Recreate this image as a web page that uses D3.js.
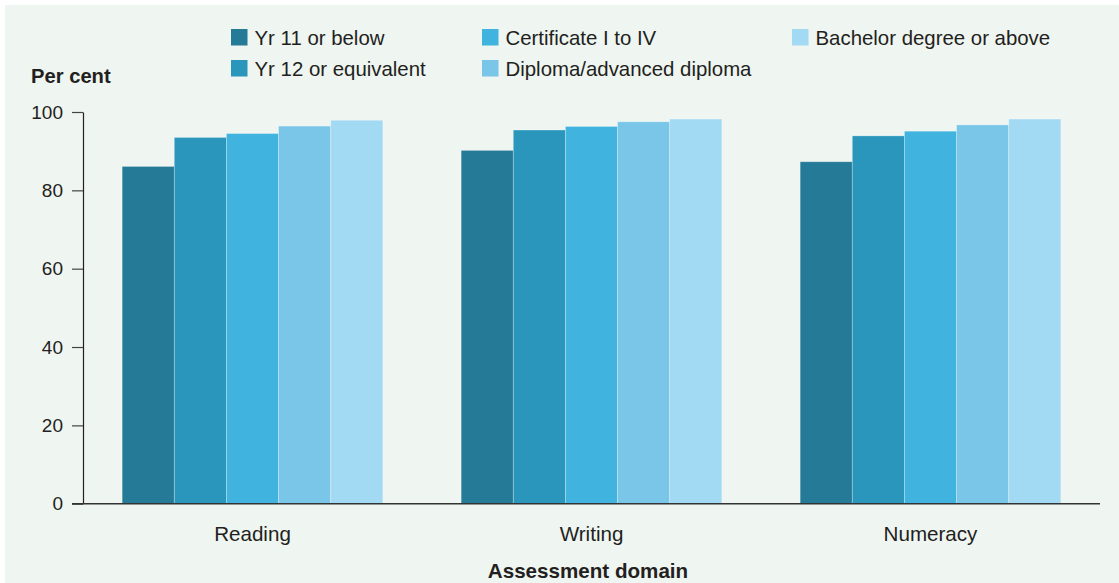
<!DOCTYPE html>
<html>
<head>
<meta charset="utf-8">
<script src="https://cdn.jsdelivr.net/npm/d3@7"></script>
<style>
  html, body { margin: 0; padding: 0; background: #ffffff; }
  svg { display: block; font-family: "Liberation Sans", Arial, sans-serif; }
</style>
</head>
<body>
<svg id="chart" width="1119" height="583"></svg>
<script>
const categories = ["Reading", "Writing", "Numeracy"];
const seriesNames = ["Yr 11 or below", "Yr 12 or equivalent", "Certificate I to IV", "Diploma/advanced diploma", "Bachelor degree or above"];
const yr11 = [86.1, 90.2, 87.3];
const yr12 = [93.5, 95.4, 93.9];
const cert = [94.5, 96.3, 95.1];
const diploma = [96.4, 97.5, 96.7];
const bachelor = [97.9, 98.2, 98.2];
const yTicks = [0, 20, 40, 60, 80, 100];
const colors = ["#257A97", "#2A96BC", "#40B3DF", "#79C6E8", "#A3DAF3"];

const seriesValues = [yr11, yr12, cert, diploma, bachelor];

const svg = d3.select("#chart");
const textColor = "#231F20";

// background panel
svg.append("rect").attr("x", 5).attr("y", 5).attr("width", 1114).attr("height", 578).attr("fill", "#EFF5F1");

const left = 83, right = 1100, y0 = 503.7, yTop = 112;
const x = d3.scaleBand().domain(categories).range([left, right]).paddingInner(0.231).paddingOuter(0.1155);
const xi = d3.scaleBand().domain(seriesNames).range([0, x.bandwidth()]).padding(0);
const y = d3.scaleLinear().domain([0, 100]).range([y0, yTop]);

// bars
const groups = svg.append("g").selectAll("g").data(categories).join("g")
  .attr("transform", d => `translate(${x(d)},0)`);
groups.selectAll("rect")
  .data((c, ci) => seriesNames.map((s, si) => ({s, si, v: seriesValues[si][ci]})))
  .join("rect")
  .attr("x", d => xi(d.s))
  .attr("y", d => y(d.v))
  .attr("width", xi.bandwidth())
  .attr("height", d => y0 - y(d.v))
  .attr("fill", d => colors[d.si])
  .attr("stroke", "rgba(255,255,255,0.35)")
  .attr("stroke-width", 0.8);

// y axis
const yAxis = svg.append("g").attr("transform", `translate(${left},0)`)
  .call(d3.axisLeft(y).tickValues(yTicks).tickSize(11).tickPadding(9).tickSizeOuter(0));
yAxis.select(".domain").attr("stroke", "#231F20").attr("stroke-width", 1.2);
yAxis.selectAll(".tick line").attr("stroke", "#444").attr("stroke-width", 1.2);
yAxis.selectAll(".tick text").attr("font-size", 19).attr("fill", textColor)
  .attr("font-family", "'Liberation Sans', Arial, sans-serif");

// x axis
const xAxis = svg.append("g").attr("transform", `translate(0,${y0})`)
  .call(d3.axisBottom(x).tickSize(0).tickPadding(23).tickSizeOuter(0));
xAxis.select(".domain").attr("stroke", "#333").attr("stroke-width", 1.4)
  .attr("d", `M72,0H${right}`);
xAxis.selectAll(".tick text").attr("font-size", 20.6).attr("fill", textColor)
  .attr("font-family", "'Liberation Sans', Arial, sans-serif");

// axis titles
svg.append("text").attr("x", 31).attr("y", 83).text("Per cent")
  .attr("font-size", 20.2).attr("font-weight", "bold").attr("fill", textColor);
svg.append("text").attr("x", (left + right) / 2 - 3.5).attr("y", 577.5).text("Assessment domain")
  .attr("text-anchor", "middle").attr("font-size", 20.6).attr("font-weight", "bold").attr("fill", textColor);

// legend
const legendPos = [[231, 29], [231, 60], [482, 29], [482, 60], [792, 29]];
const legend = svg.append("g").selectAll("g").data(seriesNames).join("g")
  .attr("transform", (d, i) => `translate(${legendPos[i][0]},${legendPos[i][1]})`);
legend.append("rect").attr("width", 16.5).attr("height", 16.5).attr("fill", (d, i) => colors[i]);
legend.append("text").attr("x", 23.5).attr("y", 15.5).text(d => d)
  .attr("font-size", 20.4).attr("fill", textColor);
</script>
</body>
</html>
